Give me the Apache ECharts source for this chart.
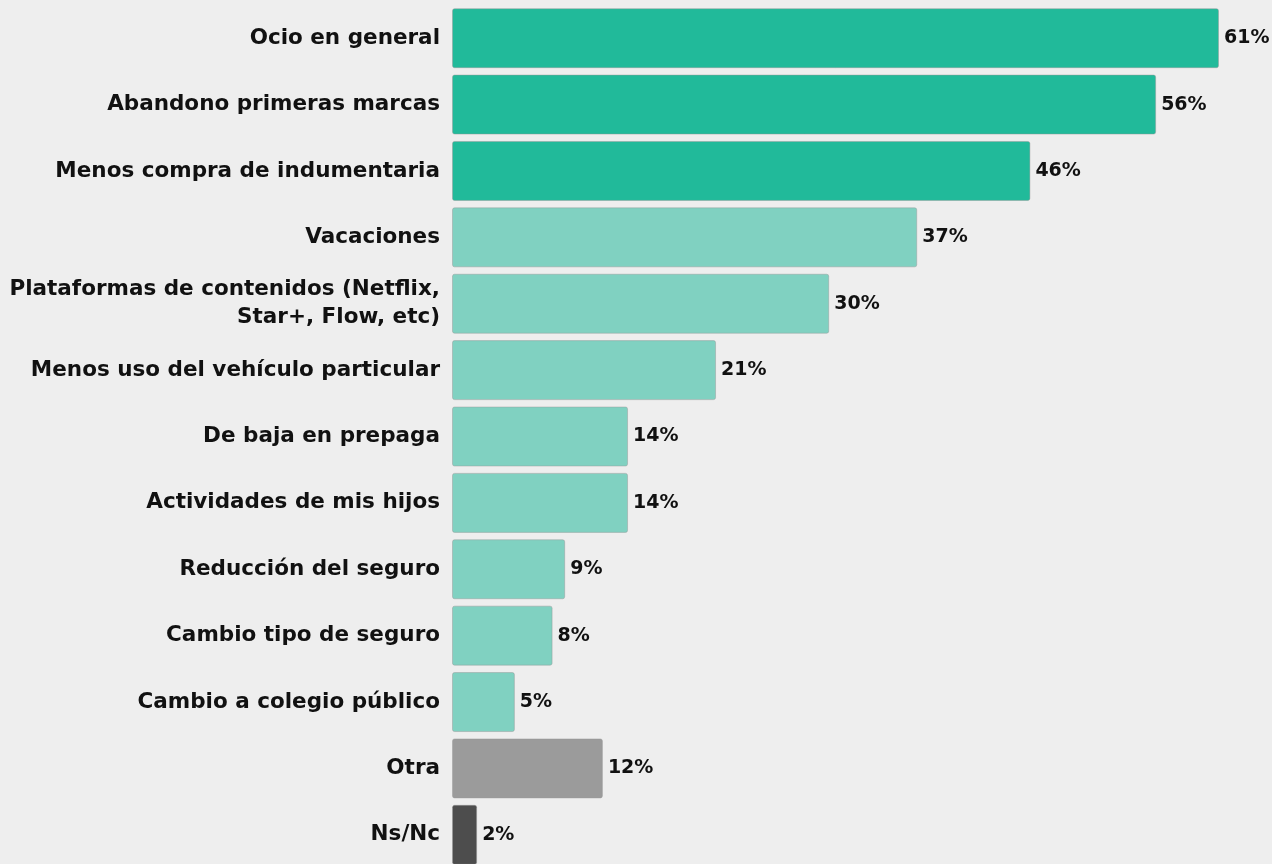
<!DOCTYPE html>
<html>
<head>
<meta charset="utf-8">
<script src="https://cdn.jsdelivr.net/npm/echarts@6/dist/echarts.min.js"></script>
<style>
  html, body { margin: 0; padding: 0; background: #eeeeee; overflow: hidden; }
  #main { width: 1272px; height: 880px; }
</style>
</head>
<body>
<div id="main"></div>
<script>
// categorias y valores (%)
var categories = [
  'Ocio en general',
  'Abandono primeras marcas',
  'Menos compra de indumentaria',
  'Vacaciones',
  'Plataformas de contenidos (Netflix,\nStar+, Flow, etc)',
  'Menos uso del vehículo particular',
  'De baja en prepaga',
  'Actividades de mis hijos',
  'Reducción del seguro',
  'Cambio tipo de seguro',
  'Cambio a colegio público',
  'Otra',
  'Ns/Nc'
];
var values = [61, 56, 46, 37, 30, 21, 14, 14, 9, 8, 5, 12, 2];
var barColors = ['#21ba9a', '#21ba9a', '#21ba9a', '#80d1c1', '#80d1c1', '#80d1c1',
  '#80d1c1', '#80d1c1', '#80d1c1', '#80d1c1', '#80d1c1', '#9b9b9b', '#4d4d4d'];

var myChart = echarts.init(document.getElementById('main'));

var option = {
  backgroundColor: '#eeeeee',
  textStyle: { fontFamily: 'DejaVu Sans' },
  grid: { left: 452, right: 53, top: 5, height: 863 },
  xAxis: {
    type: 'value',
    min: 0,
    max: 61,
    show: false
  },
  yAxis: {
    type: 'category',
    inverse: true,
    data: categories,
    axisLine: { show: false },
    axisTick: { show: false },
    axisLabel: {
      margin: 12,
      color: '#111',
      fontWeight: 'bold',
      fontSize: 21.5,
      lineHeight: 28,
      align: 'right'
    }
  },
  series: [{
    type: 'bar',
    barWidth: 60,
    data: values.map(function (v, i) {
      return {
        value: v,
        itemStyle: { color: barColors[i] }
      };
    }),
    itemStyle: {
      borderColor: 'rgba(150,150,150,0.45)',
      borderWidth: 1,
      borderRadius: 2
    },
    label: {
      show: true,
      position: 'right',
      distance: 5,
      color: '#111',
      fontWeight: 'bold',
      fontSize: 19,
      formatter: '{c}%'
    },
    animation: false
  }]
};

myChart.setOption(option);
</script>
</body>
</html>
